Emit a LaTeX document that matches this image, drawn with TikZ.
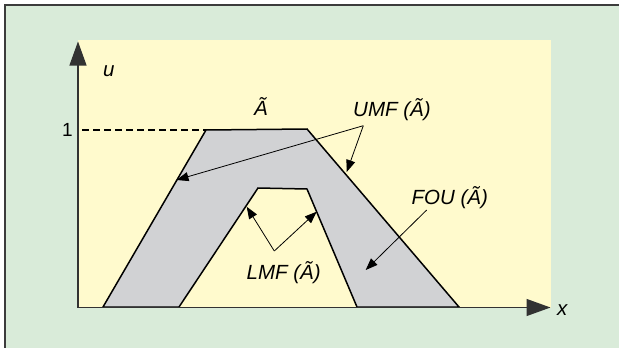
\documentclass[tikz,border=0pt]{standalone}
\usepackage{fontspec}
\setmainfont{Liberation Sans}
\usetikzlibrary{arrows.meta}
\definecolor{bggreen}{RGB}{217,235,217}
\definecolor{panelyellow}{RGB}{255,250,205}
\definecolor{fougray}{RGB}{209,210,212}
\definecolor{framegray}{RGB}{60,60,60}
\definecolor{axisgray}{RGB}{50,50,50}
\tikzset{
  lbl/.style={inner sep=0pt, font=\fontsize{20.5}{22}\selectfont\itshape, anchor=base west},
  ptr/.style={line width=0.8pt, -{Triangle[length=12pt,width=9pt]}},
  axisline/.style={line width=1.2pt, draw=axisgray, -{Triangle[length=24pt,width=17pt]}},
}
\begin{document}
\begin{tikzpicture}[x=1pt,y=-1pt]
\useasboundingbox (0,0) rectangle (619,348);
\fill[white] (0,0) rectangle (619,348);
\fill[bggreen] (5,5) rectangle (619,348);
\draw[framegray, line width=1.3pt] (5,348) -- (5,5) -- (619,5);
\fill[panelyellow] (78,40) rectangle (551,307.5);
% footprint of uncertainty
\filldraw[fill=fougray, draw=black, line width=1.5pt, line join=miter]
  (103,307) -- (206,130) -- (307,129) -- (459,307) -- (357,307)
  -- (307,189) -- (258,188) -- (179,307) -- cycle;
% axes
\coordinate (origin) at (78,307.5);
\coordinate (ytip) at (78,41.5);
\coordinate (xtip) at (550.5,307.5);
\draw[axisline] (origin) -- (ytip);
\draw[axisline] (origin) -- (xtip);
\draw[line width=1.5pt, dash pattern=on 7pt off 4pt] (82,130) -- (206,130);
% labels
\node[lbl] (u) at (103,76.5) {u};
\node[lbl, font=\fontsize{19}{20}\selectfont] (one) at (62,136) {1};
\node[lbl] (x) at (557,315) {x};
\node[lbl] (A) at (254,115) {Ã};
\node[lbl] (umf) at (353,116.7) {UMF (Ã)};
\node[lbl] (fou) at (411.5,204) {FOU (Ã)};
\node[lbl] (lmf) at (246.5,279) {LMF (Ã)};
% pointers
\coordinate (umfo) at (363.3,125.7);
\coordinate (umfl) at (176.5,180);
\coordinate (umfr) at (346.7,172);
\coordinate (lmfo) at (274.3,251);
\coordinate (lmfl) at (246.7,206.7);
\coordinate (lmfr) at (316.7,211.7);
\coordinate (fouo) at (426.7,210);
\coordinate (fout) at (365.7,270);
\draw[ptr] (umfo) -- (umfl);
\draw[ptr] (umfo) -- (umfr);
\draw[ptr] (lmfo) -- (lmfl);
\draw[ptr] (lmfo) -- (lmfr);
\draw[ptr] (fouo) -- (fout);
\end{tikzpicture}
\end{document}
